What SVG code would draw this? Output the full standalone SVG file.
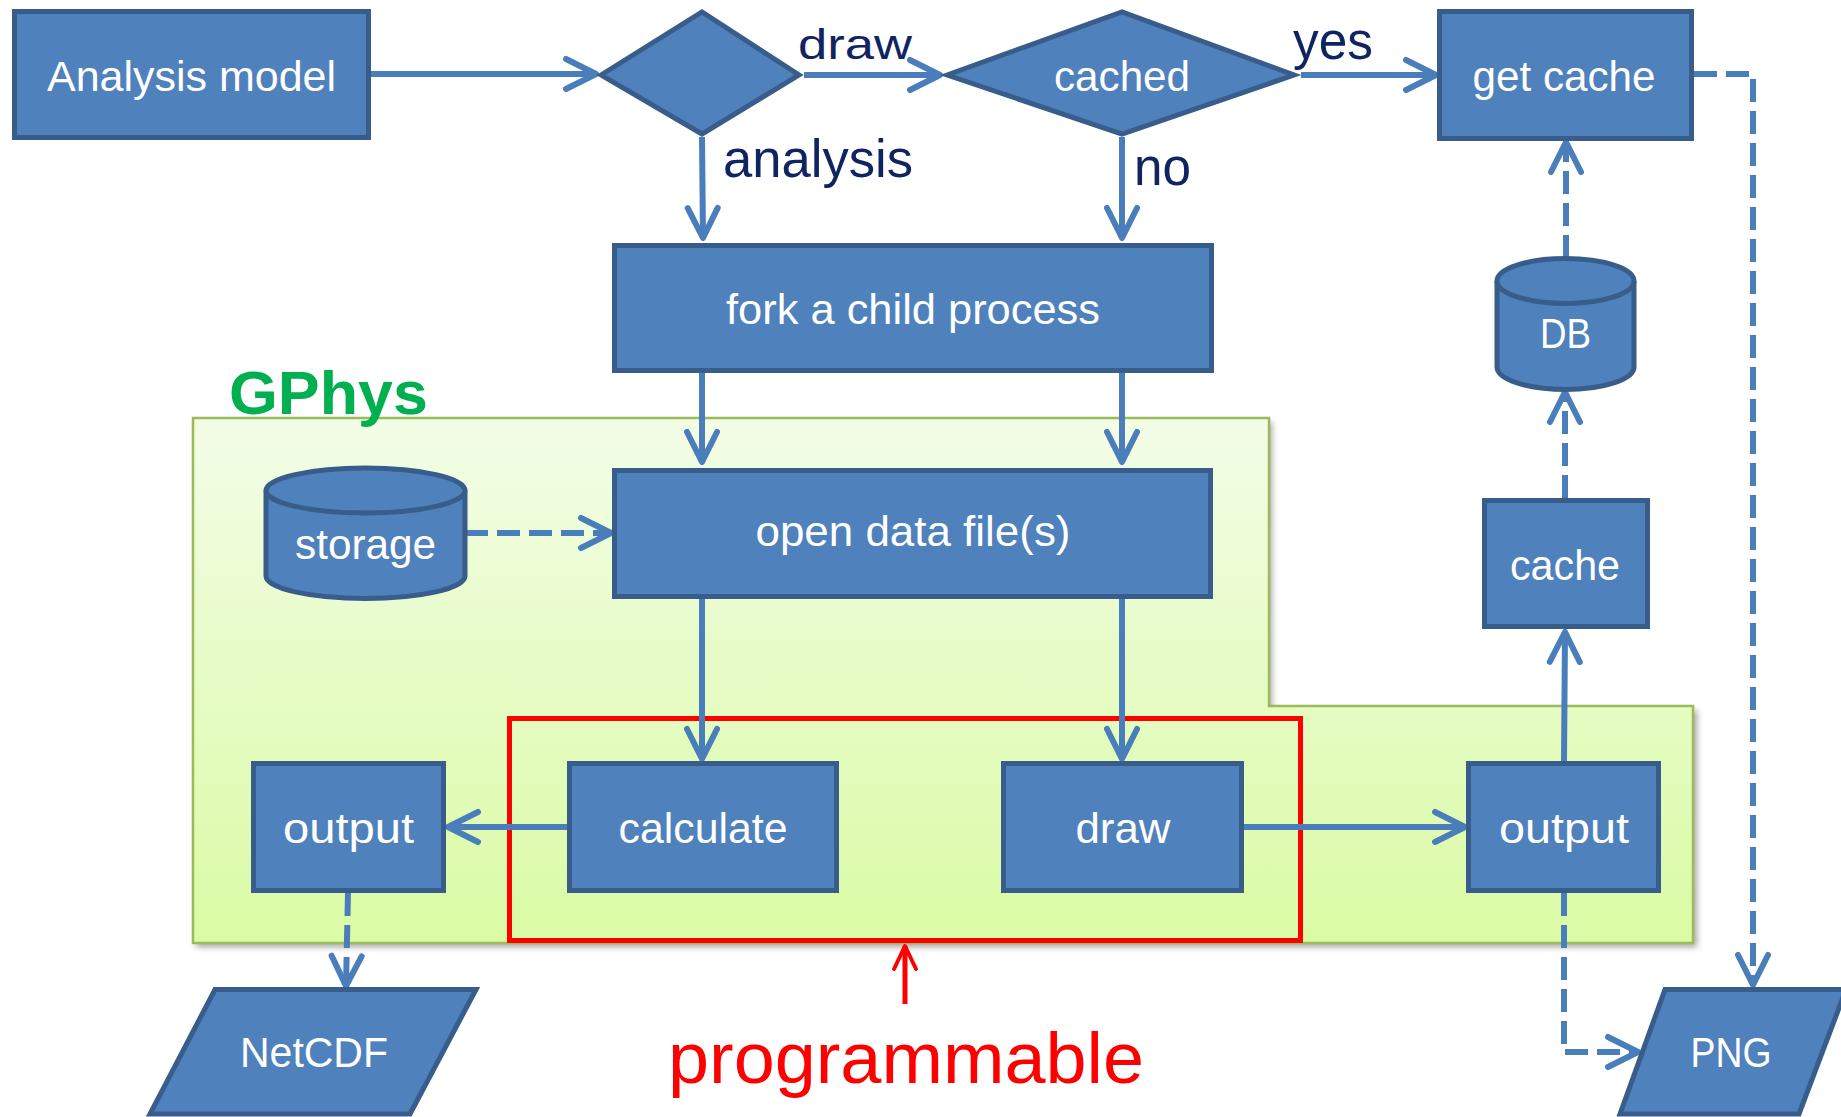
<svg xmlns="http://www.w3.org/2000/svg" width="1841" height="1117" viewBox="0 0 1841 1117">
<style>
.box{fill:#4F81BD;stroke:#385D8A;stroke-width:5}
.t{font-family:"Liberation Sans",Arial,sans-serif;font-size:42px;fill:#FFFFFF;text-anchor:middle}
.lbl{font-family:"Liberation Sans",Arial,sans-serif;font-size:53px;fill:#0F2460}
.ln{fill:none;stroke:#4A7EBB;stroke-width:6;marker-end:url(#ah)}
.dash{stroke-dasharray:23 9}
</style>
<defs>
<linearGradient id="gg" x1="0" y1="0" x2="0" y2="1">
<stop offset="0" stop-color="#F3FDE7"/>
<stop offset="1" stop-color="#DAFBA4"/>
</linearGradient>
<filter id="sh" x="-5%" y="-5%" width="110%" height="115%">
<feGaussianBlur stdDeviation="3"/>
</filter>
<marker id="ah" markerUnits="userSpaceOnUse" viewBox="-36 -20 40 40" refX="0" refY="0" markerWidth="40" markerHeight="40" orient="auto">
<path d="M-30,-15 L0,0 L-30,15" fill="none" stroke="#4A7EBB" stroke-width="6" stroke-linecap="round" stroke-linejoin="round" stroke-dasharray="none"/>
</marker>
<marker id="ahr" markerUnits="userSpaceOnUse" viewBox="-30 -16 34 32" refX="0" refY="0" markerWidth="34" markerHeight="32" orient="auto">
<path d="M-23,-11 L0,0 L-23,11" fill="none" stroke="#FF0000" stroke-width="4" stroke-linecap="round" stroke-linejoin="round"/>
</marker>
</defs>

<g id="gphys-region">
<polygon points="196,422 1272,422 1272,710 1697,710 1697,947 196,947" fill="#000" opacity="0.35" filter="url(#sh)"/>
<polygon points="193,418 1269,418 1269,706 1693,706 1693,943 193,943" fill="url(#gg)" stroke="#9BBB59" stroke-width="2.5"/>
<text x="229" y="414" font-family="'Liberation Sans',Arial,sans-serif" font-size="62" font-weight="bold" fill="#00B050" textLength="199" lengthAdjust="spacingAndGlyphs">GPhys</text>
</g>

<g id="programmable-region">
<rect x="509.5" y="718.5" width="791" height="222" fill="none" stroke="#FF0000" stroke-width="5"/>
</g>

<g id="connectors">
<path class="ln" d="M371,74 L596,74"/>
<path class="ln" d="M804,75 L940,75"/>
<path class="ln" d="M1301,75 L1436,75"/>
<path class="ln" d="M702,137 L703,238"/>
<path class="ln" d="M1122,137 L1122,238"/>
<path class="ln" d="M702,373 L702,462"/>
<path class="ln" d="M1122,373 L1122,462"/>
<path class="ln" d="M702,599 L702,759"/>
<path class="ln" d="M1122,599 L1122,759"/>
<path class="ln" d="M567,827 L448,827"/>
<path class="ln" d="M1244,827 L1465,827"/>
<path class="ln" d="M1564,761 L1565,632"/>
<path class="ln dash" d="M1565,498 L1565,392"/>
<path class="ln dash" d="M1566,258 L1566,142"/>
<path class="ln dash" d="M1694,74 L1753,74 L1753,985"/>
<path class="ln dash" d="M1564,893 L1564,1052 L1638,1052"/>
<path class="ln dash" d="M348,893 L346,986"/>
<path class="ln dash" d="M465,533 L611,533"/>
<path d="M905,1004 L905,946" fill="none" stroke="#FF0000" stroke-width="5" marker-end="url(#ahr)"/>
<text class="lbl" transform="translate(798,59) scale(1,0.81)" textLength="114" lengthAdjust="spacingAndGlyphs">draw</text>
<text class="lbl" x="723" y="177" textLength="190" lengthAdjust="spacingAndGlyphs">analysis</text>
<text class="lbl" x="1293" y="59" textLength="80" lengthAdjust="spacingAndGlyphs">yes</text>
<text class="lbl" x="1134" y="185" textLength="57" lengthAdjust="spacingAndGlyphs">no</text>
</g>

<g id="analysis-model">
<rect class="box" x="14.5" y="11.5" width="354" height="126"/>
<text class="t" x="191.5" y="91" textLength="289" lengthAdjust="spacingAndGlyphs">Analysis model</text>
</g>

<g id="decision">
<polygon class="box" points="601,75 702,12 799,75 702,134"/>
</g>

<g id="cached">
<polygon class="box" points="947,75 1122,12 1294,75 1122,134"/>
<text class="t" x="1122" y="91" textLength="136" lengthAdjust="spacingAndGlyphs">cached</text>
</g>

<g id="get-cache">
<rect class="box" x="1439.5" y="11.5" width="252" height="127"/>
<text class="t" x="1564" y="91" textLength="183" lengthAdjust="spacingAndGlyphs">get cache</text>
</g>

<g id="fork">
<rect class="box" x="614.5" y="245.5" width="597" height="125"/>
<text class="t" x="913" y="324" textLength="374" lengthAdjust="spacingAndGlyphs">fork a child process</text>
</g>

<g id="db">
<path class="box" d="M1497,281 L1497,367 A68.5,22.5 0 0 0 1634,367 L1634,281"/>
<ellipse class="box" cx="1565.5" cy="281" rx="68.5" ry="22.5"/>
<text class="t" x="1565.5" y="348" textLength="51" lengthAdjust="spacingAndGlyphs">DB</text>
</g>

<g id="storage">
<path class="box" d="M266,490.5 L266,576 A99.5,22.5 0 0 0 465,576 L465,490.5"/>
<ellipse class="box" cx="365.5" cy="490.5" rx="99.5" ry="22.5"/>
<text class="t" x="365.5" y="559" textLength="141" lengthAdjust="spacingAndGlyphs">storage</text>
</g>

<g id="open-data">
<rect class="box" x="614.5" y="470.5" width="596" height="126"/>
<text class="t" x="913" y="546" textLength="315" lengthAdjust="spacingAndGlyphs">open data file(s)</text>
</g>

<g id="cache">
<rect class="box" x="1484.5" y="500.5" width="163" height="126"/>
<text class="t" x="1565" y="580" textLength="110" lengthAdjust="spacingAndGlyphs">cache</text>
</g>

<g id="output-left">
<rect class="box" x="253.5" y="763.5" width="190" height="127"/>
<text class="t" x="348.5" y="843" textLength="131" lengthAdjust="spacingAndGlyphs">output</text>
</g>

<g id="calculate">
<rect class="box" x="569.5" y="763.5" width="267" height="127"/>
<text class="t" x="703" y="843" textLength="169" lengthAdjust="spacingAndGlyphs">calculate</text>
</g>

<g id="draw">
<rect class="box" x="1003.5" y="763.5" width="238" height="127"/>
<text class="t" x="1123" y="843" textLength="95" lengthAdjust="spacingAndGlyphs">draw</text>
</g>

<g id="output-right">
<rect class="box" x="1468.5" y="763.5" width="190" height="127"/>
<text class="t" x="1564" y="843" textLength="130" lengthAdjust="spacingAndGlyphs">output</text>
</g>

<g id="netcdf">
<polygon class="box" points="215,989.5 476,989.5 410,1114 150,1114"/>
<text class="t" x="314" y="1067" textLength="148" lengthAdjust="spacingAndGlyphs">NetCDF</text>
</g>

<g id="png">
<polygon class="box" points="1665,989.5 1846,989.5 1799,1114 1620,1114"/>
<text class="t" x="1731" y="1067" textLength="81" lengthAdjust="spacingAndGlyphs">PNG</text>
</g>

<g id="programmable-label">
<text x="668" y="1083" font-family="'Liberation Sans',Arial,sans-serif" font-size="72" fill="#FF0000" textLength="476" lengthAdjust="spacingAndGlyphs">programmable</text>
</g>
</svg>
